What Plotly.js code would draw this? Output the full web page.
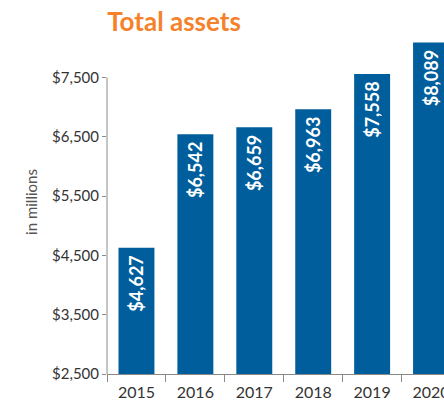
<!DOCTYPE html>
<html>
<head>
<meta charset="utf-8">
<script src="https://cdn.plot.ly/plotly-3.0.1.min.js"></script>
<style>html,body{margin:0;padding:0;background:#fff;}#chart{width:444px;height:406px;}</style>
</head>
<body>
<div id="chart"></div>
<script>
const DOLLAR = String.fromCharCode(36);
const NBSP = String.fromCharCode(160);
const years = ['2015', '2016', '2017', '2018', '2019', '2020'];
const assets = [4627, 6542, 6659, 6963, 7558, 8089];
const yTickVals = [2500, 3500, 4500, 5500, 6500, 7500];

const barColor = '#005e9c';
const axisColor = '#8a8a8a';

function money(v) {
  return DOLLAR + v.toLocaleString('en-US');
}

const trace = {
  type: 'bar',
  x: years,
  y: assets,
  marker: {color: barColor},
  text: assets.map(v => money(v) + NBSP),
  textposition: 'inside',
  insidetextanchor: 'end',
  textangle: -90,
  constraintext: 'none',
  insidetextfont: {family: 'Lato, sans-serif', size: 18, color: '#ffffff', weight: 'bold'},
  hoverinfo: 'skip'
};

const layout = {
  width: 444, height: 406,
  margin: {l: 107, r: 0, t: 30, b: 32},
  paper_bgcolor: '#ffffff', plot_bgcolor: '#ffffff',
  showlegend: false,
  bargap: 0.39,
  title: {
    text: '<b>Total assets</b>',
    font: {family: 'Lato, sans-serif', size: 26, color: '#f5822a'},
    x: 174 / 444, xanchor: 'center', xref: 'container',
    y: 1 - 22 / 406, yanchor: 'middle', yref: 'container'
  },
  xaxis: {
    type: 'category',
    range: [-0.5, 5.22],
    tickson: 'boundaries',
    ticks: 'outside', ticklen: 7, tickcolor: axisColor, tickwidth: 1,
    ticklabelstandoff: 4,
    showline: true, linecolor: axisColor, linewidth: 1,
    showgrid: false, zeroline: false,
    tickfont: {family: 'Lato, sans-serif', size: 16, color: '#333333'},
    fixedrange: true
  },
  yaxis: {
    range: [2500, 8300],
    tickvals: yTickVals,
    ticktext: yTickVals.map(money),
    ticks: 'outside', ticklen: 4, tickcolor: axisColor, tickwidth: 1,
    showline: false, showgrid: false, zeroline: false,
    tickfont: {family: 'Lato, sans-serif', size: 15, color: '#333333'},
    title: {text: 'in millions', font: {family: 'Lato, sans-serif', size: 15, color: '#555555'}, standoff: 10},
    fixedrange: true
  },
  shapes: [{
    type: 'line', xref: 'paper', yref: 'y',
    x0: 0, x1: 0, y0: yTickVals[0], y1: yTickVals[yTickVals.length - 1],
    line: {color: axisColor, width: 1}
  }]
};

Plotly.newPlot('chart', [trace], layout, {displayModeBar: false, staticPlot: true});
</script>
</body>
</html>
